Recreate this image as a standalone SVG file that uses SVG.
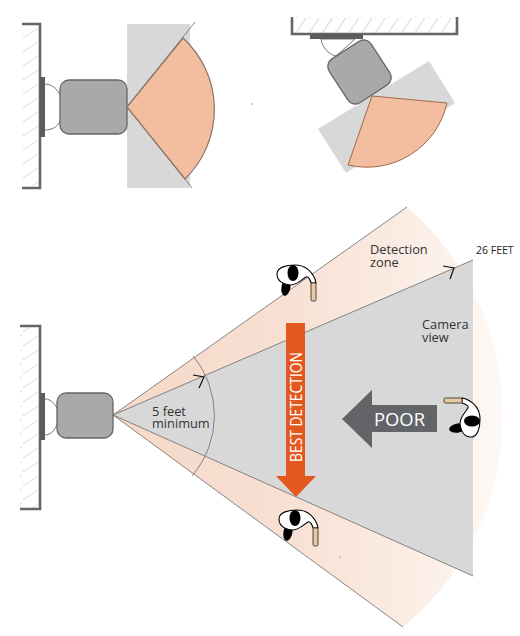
<svg xmlns="http://www.w3.org/2000/svg" width="520" height="636" viewBox="0 0 520 636">
<style>
.wall{fill:none;stroke:#666;stroke-width:2.6}
.mount{fill:#5c5c5c}
.cam{fill:#a9a9a9;stroke:#666;stroke-width:1.3}
.loop{fill:#fff;stroke:#777;stroke-width:1}
.view{fill:#d8d8d8}
.zone{fill:#f3bd9f;stroke:#8c7466;stroke-width:1.2}
.edge{fill:none;stroke:#6b6b6b;stroke-width:.8}
.tick{fill:none;stroke:#111;stroke-width:1.2}
text{font-family:"Open Sans","Noto Sans","Liberation Sans",sans-serif;fill:#333}
.lb{font-size:12.8px}
</style>
<defs>
<pattern id="h1" patternUnits="userSpaceOnUse" x="22" y="24" width="18" height="14"><path d="M0,14.5 L18,3" stroke="#dcdcdc" stroke-width="1"/></pattern>
<pattern id="h2" patternUnits="userSpaceOnUse" x="294" y="18" width="13.2" height="15"><path d="M2,15 L12,0" stroke="#d4d4d4" stroke-width="1"/></pattern>
<linearGradient id="fade" gradientUnits="userSpaceOnUse" x1="113" y1="415" x2="503" y2="415"><stop offset="0" stop-color="#f6d9c8"/><stop offset=".4" stop-color="#f7dfd1"/><stop offset=".72" stop-color="#faebe2"/><stop offset=".92" stop-color="#fdf5ef"/><stop offset="1" stop-color="#fef9f5"/></linearGradient>
<g id="person">
<ellipse cx="-7" cy="14" rx="4.500" ry="9" fill="#000" transform="rotate(10 -7 14)"/>
<path d="M-16,1 C-16,-6 -6,-8 2,-8 C10,-8 17,-5 22,6 L23,10 L18,10 C17,6 15,3 13,4 C9,6 5,12 -3,12 C-10,11 -16,8 -16,1Z" fill="#fff" stroke="#000" stroke-width="1.1"/>
<rect x="18" y="10" width="5" height="18" rx="1.500" fill="#e9c9a2" stroke="#222" stroke-width=".8"/>
<ellipse cx="0" cy="0" rx="5.500" ry="8" fill="#000"/>
</g>
</defs>

<g id="side-view">
<path d="M22,24 H40 V188 H22Z" fill="url(#h1)"/>
<path class="wall" d="M22,24 H40 V188 H22"/>
<rect x="127" y="24" width="63" height="164" class="view"/>
<path class="loop" d="M45,84 C54,84 59,92 61,97 V119 C59,125 54,130 45,130"/>
<rect class="mount" x="40" y="77" width="5" height="60"/>
<rect id="cam-side" class="cam" x="60" y="80" width="67" height="54" rx="9"/>
<path class="edge" d="M127,107 L195,22 M127,107 L192,188"/>
<path class="zone" d="M127,107 L183,38 A97,97 0 0 1 185,179 Z"/>
<circle cx="252" cy="104" r=".7" fill="#666"/>
</g>

<g id="ceiling-view">
<path d="M292,17 V34 H457 V17Z" fill="url(#h2)"/>
<path class="wall" d="M292,17 V34 H457 V17"/>
<polygon class="view" points="429,61 455,103 346,173 318,129"/>
<path class="loop" d="M321,39 C322,48 330,55 336,56 L355,39 Z"/>
<rect class="mount" x="310" y="34" width="53" height="5"/>
<rect id="cam-ceil" class="cam" x="-25" y="-26" width="50" height="52" rx="9" transform="translate(359.500,72) rotate(-33)"/>
<path class="zone" d="M372,96 L447,103 A82,82 0 0 1 348,165 Z" style="stroke:#a06a4e;stroke-width:1"/>
</g>

<g id="top-view">
<path d="M20,326 H40 V509 H20Z" fill="url(#h1)"/>
<path class="wall" d="M20,326 H40 V509 H20"/>
<path d="M113,415 L407,207 A274,274 0 0 1 403,627 Z" fill="url(#fade)"/>
<polygon class="view" points="113,415 473,260 473,576"/>
<path class="loop" d="M45,399 C52,399 56,406 58,410 V422 C56,428 52,435 45,435"/>
<rect class="mount" x="40" y="393" width="5" height="47"/>
<rect id="cam-top" class="cam" x="57" y="393" width="56" height="45" rx="9"/>
</g>

<g id="connectors">
<path class="edge" d="M113,415 L407,207 M113,415 L473,260 M113,415 L473,576 M113,415 L403,627"/>
<path class="edge" d="M193,356 A93,93 0 0 1 192,476"/>
<path class="tick" d="M193,375 L204,377 L199,388"/>
<path class="tick" d="M443,266 L454,268 L450,279"/>
<g id="best-arrow"><polygon points="286,323 305,323 305,476 316,476 296,497 276,476 286,476" fill="#e2591f"/></g>
<g id="poor-arrow"><polygon points="342,419 372,390 372,405 437,405 437,432 372,432 372,448" fill="#626467"/></g>
</g>

<g id="labels">
<text class="lb"><tspan x="370" y="254">Detection</tspan><tspan x="370" y="267">zone</tspan></text>
<text x="476" y="254" style="font-size:10.500px;fill:#222">26 FEET</text>
<text class="lb"><tspan x="422" y="329">Camera</tspan><tspan x="422" y="342">view</tspan></text>
<text class="lb"><tspan x="152" y="416">5 feet</tspan><tspan x="152" y="428">minimum</tspan></text>
<text x="374" y="426" textLength="51" lengthAdjust="spacingAndGlyphs" style="font-size:19px;fill:#fff">POOR</text>
<text transform="translate(302,462) rotate(-90)" textLength="110" lengthAdjust="spacingAndGlyphs" style="font-size:15.500px;fill:#fff">BEST DETECTION</text>
</g>

<g id="person-top"><use href="#person" transform="translate(293,273)"/></g>
<g id="person-bottom"><use href="#person" transform="translate(295,518)"/></g>
<g id="person-right"><use href="#person" transform="matrix(0,-1,-1,0,472,421)"/></g>
<circle cx="340" cy="557" r=".6" fill="#555"/>
</svg>
